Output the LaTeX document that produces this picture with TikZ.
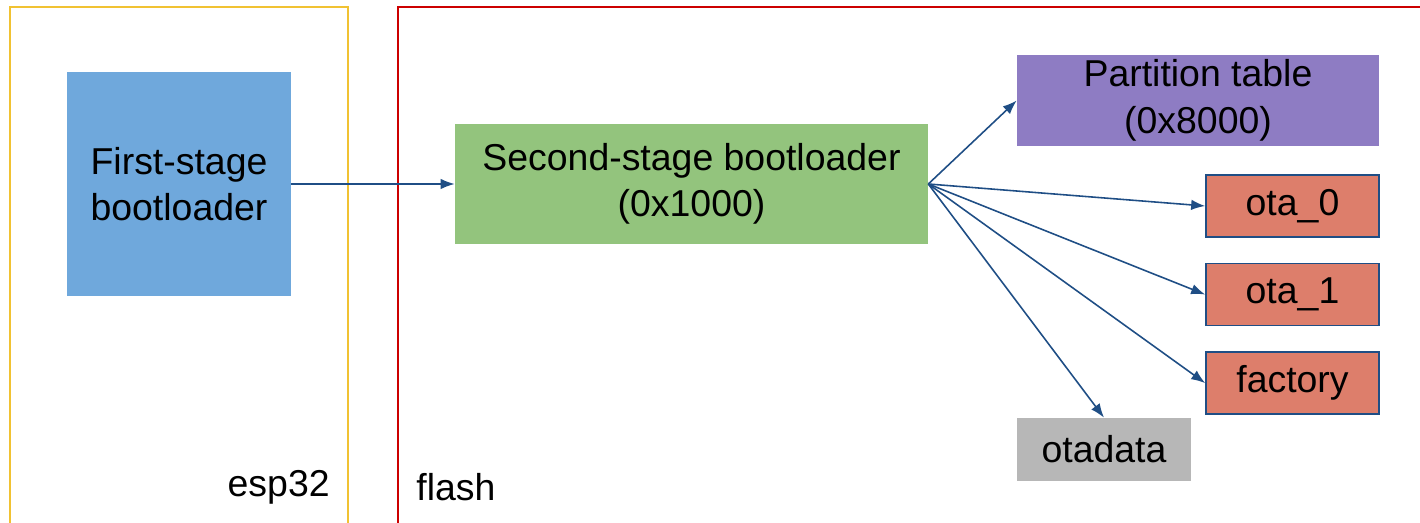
\documentclass[tikz,border=0pt]{standalone}
\usepackage{fontspec}
\setmainfont{Liberation Sans}
\usepackage{tikz}
\usepackage{xcolor}
\usetikzlibrary{shapes,arrows.meta,positioning,calc}

\definecolor{chipyellow}{HTML}{F1C232}
\definecolor{flashred}{HTML}{CC0000}
\definecolor{stageone}{HTML}{6FA8DC}
\definecolor{stagetwo}{HTML}{93C47D}
\definecolor{ptable}{HTML}{8E7CC3}
\definecolor{appred}{HTML}{DD7E6B}
\definecolor{datagrey}{HTML}{B7B7B7}
\definecolor{linkblue}{HTML}{1F4E85}

\begin{document}
\begin{tikzpicture}[
    x=0.02cm, y=-0.02cm,
    font=\fontsize{21.3}{26.5}\selectfont,
    block/.style={rectangle, inner sep=0pt, align=center},
    app/.style={block, fill=appred, draw=linkblue, line width=0.9pt, minimum width=3.46cm, minimum height=1.24cm},
    region/.style={line width=1.1pt},
    >={Latex[length=8pt,width=6pt]}
]
\useasboundingbox (0,0) rectangle (1420,523);

% memory regions
\draw[region, chipyellow] (10,540) -- (10,7) -- (348,7) -- (348,540);
\draw[region, flashred] (398,540) -- (398,7) -- (1440,7);
\node[anchor=east, inner sep=0pt] (esp) at (330,487) {esp32};
\node[anchor=west, inner sep=0pt] (flash) at (416,487) {flash};

% boot stages
\node[block, fill=stageone, minimum width=4.48cm, minimum height=4.48cm] (first) at (179,184) {First-stage\\bootloader};
\node[block, fill=stagetwo, minimum width=9.46cm, minimum height=2.4cm] (second) at (691.5,184) {Second-stage bootloader\\(0x1000)};

% partitions
\node[block, fill=ptable, minimum width=7.24cm, minimum height=1.82cm] (ptab) at (1198,100.5) {Partition table\\(0x8000)};
\node[app] (ota0) at (1292.5,206) {ota\_0};
\node[app, below=0.5cm of ota0] (ota1) {ota\_1};
\node[app, below=0.5cm of ota1] (factory) {factory};
\node[block, fill=datagrey, minimum width=3.48cm, minimum height=1.26cm] (otadata) at (1104,449.5) {otadata};

% links
\draw[->, linkblue, line width=0.9pt] (first) -- (second);
\draw[->, linkblue, line width=0.9pt] (second.east) -- (ptab.west);
\draw[->, linkblue, line width=0.9pt] (second.east) -- (ota0.west);
\draw[->, linkblue, line width=0.9pt] (second.east) -- (ota1.west);
\draw[->, linkblue, line width=0.9pt] (second.east) -- (factory.west);
\draw[->, linkblue, line width=0.9pt] (second.east) -- (otadata.north);

\end{tikzpicture}
\end{document}
